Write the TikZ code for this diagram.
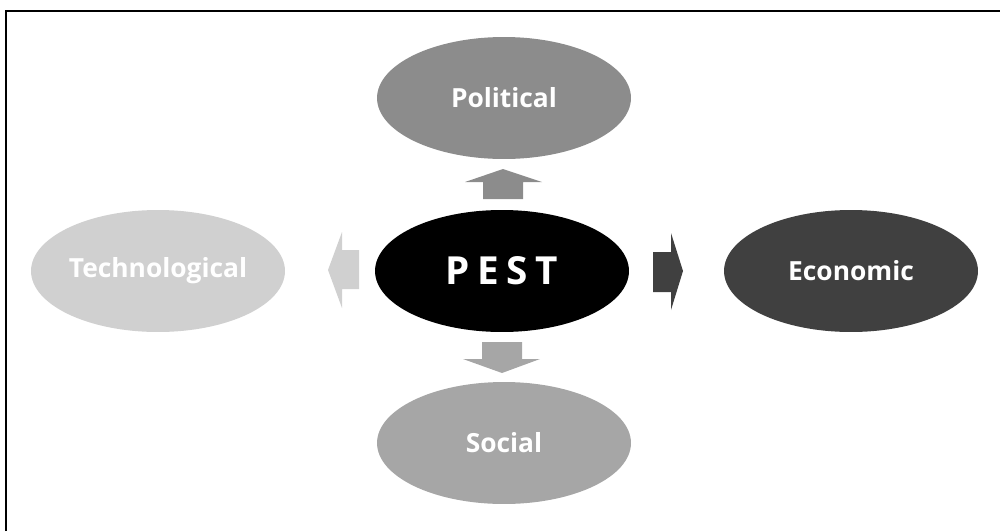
\documentclass[tikz,border=0pt]{standalone}
\usepackage{fontspec}
\setmainfont{Open Sans}
\usetikzlibrary{shapes,positioning}

\definecolor{polgray}{HTML}{8C8C8C}
\definecolor{ecogray}{HTML}{404040}
\definecolor{socgray}{HTML}{A6A6A6}
\definecolor{tecgray}{HTML}{D0D0D0}

\tikzset{
  factor/.style={ellipse, minimum width=5.08cm, minimum height=2.44cm, inner sep=0pt,
    text=white, font=\bfseries\fontsize{15}{18}\selectfont},
  core/.style={factor, fill=black, font=\bfseries\fontsize{22}{26}\selectfont}
}

\begin{document}
\begin{tikzpicture}[x=0.02cm,y=-0.02cm]
\useasboundingbox (0,0) rectangle (1000,531);
\draw [line width=1.1pt] (6,531) -- (6,11) -- (1000,11);

% the four factors round PEST
\node [core] (pest) at (502,271) {P\hspace{0.2em}E\hspace{0.2em}S\hspace{0.2em}T};
\node [factor, fill=polgray] (pol) at (504,98) {Political};
\node [factor, fill=ecogray] (eco) at (851,271) {Economic};
\node [factor, fill=socgray] (soc) at (504,443) {Social};
\node [factor, fill=tecgray] (tec) at (158,271) {Technological};

% block arrows
\fill [polgray] (483,199) -- (483,182) -- (465,182) -- (503,169) -- (542,182) -- (523,182) -- (523,199) -- cycle;
\fill [socgray] (482,342) -- (482,359) -- (463,359) -- (502,373) -- (540,359) -- (522,359) -- (522,342) -- cycle;
\fill [tecgray] (359,250) -- (342,250) -- (342,232) -- (328,270) -- (342,308) -- (342,289) -- (359,289) -- cycle;
\fill [ecogray] (653,252) -- (671,252) -- (671,233) -- (683,271) -- (671,310) -- (671,292) -- (653,292) -- cycle;
\end{tikzpicture}
\end{document}
